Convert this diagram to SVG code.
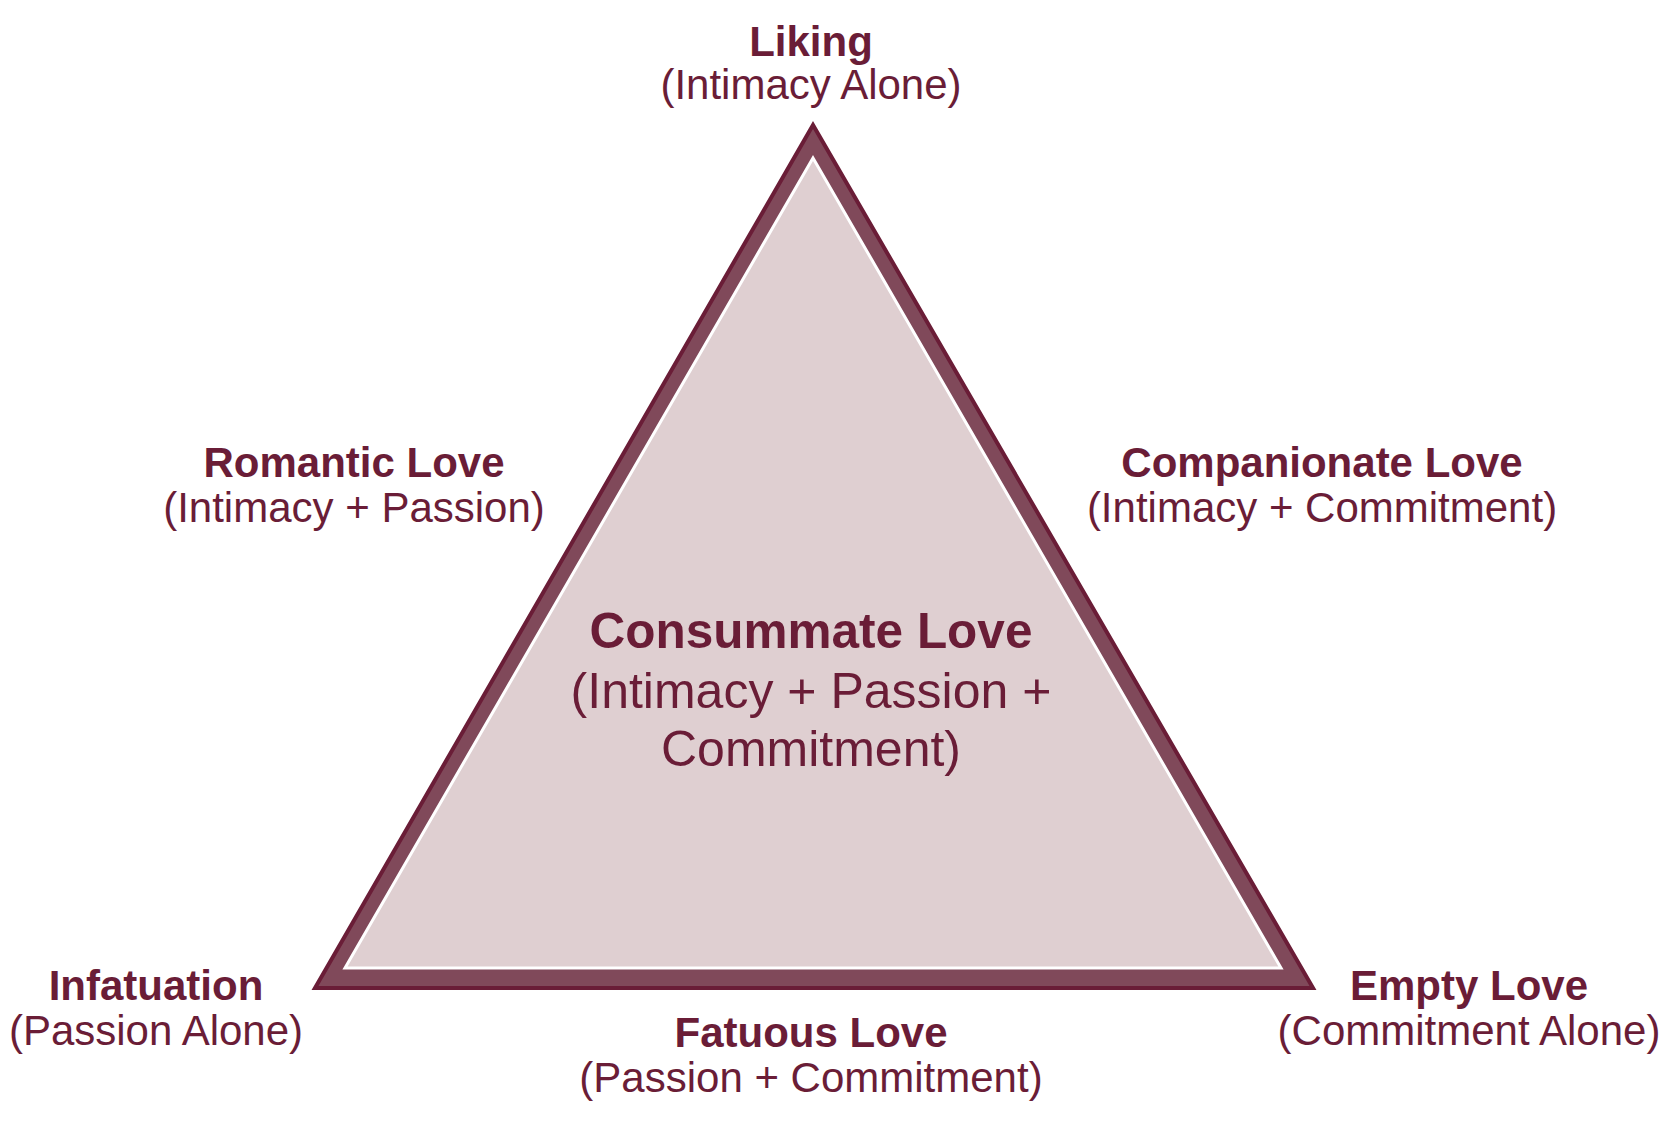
<svg xmlns="http://www.w3.org/2000/svg" width="1674" height="1126" viewBox="0 0 1674 1126">
<style>
text{font-family:"Liberation Sans",Arial,sans-serif;fill:#6a1d37;text-anchor:middle}
.b{font-weight:bold;font-size:42px}
.r{font-size:42px}
.cb{font-weight:bold;font-size:49.5px}
.cr{font-size:50px}
</style>
<rect width="1674" height="1126" fill="#ffffff"/>
<g id="triangle">
<polygon points="813,125 1313,988 315,988" fill="#80495a" stroke="#6a1d37" stroke-width="4" stroke-linejoin="miter"/>
<polygon points="813,158 1281,968 345,968" fill="#dfcfd1" stroke="#ffffff" stroke-width="3"/>
</g>
<g id="liking"><text class="b" x="811" y="56">Liking</text><text class="r" x="811" y="99">(Intimacy Alone)</text></g>
<g id="romantic"><text class="b" x="354" y="477">Romantic Love</text><text class="r" x="354" y="522">(Intimacy + Passion)</text></g>
<g id="companionate"><text class="b" x="1322" y="477">Companionate Love</text><text class="r" x="1322" y="522">(Intimacy + Commitment)</text></g>
<g id="consummate"><text class="cb" x="811" y="648">Consummate Love</text><text class="cr" x="811" y="708">(Intimacy + Passion +</text><text class="cr" x="811" y="766">Commitment)</text></g>
<g id="infatuation"><text class="b" x="156" y="1000">Infatuation</text><text class="r" x="156" y="1045">(Passion Alone)</text></g>
<g id="fatuous"><text class="b" x="811" y="1047">Fatuous Love</text><text class="r" x="811" y="1092">(Passion + Commitment)</text></g>
<g id="empty"><text class="b" x="1469" y="1000">Empty Love</text><text class="r" x="1469" y="1045">(Commitment Alone)</text></g>
<g id="connectors"></g>
</svg>
